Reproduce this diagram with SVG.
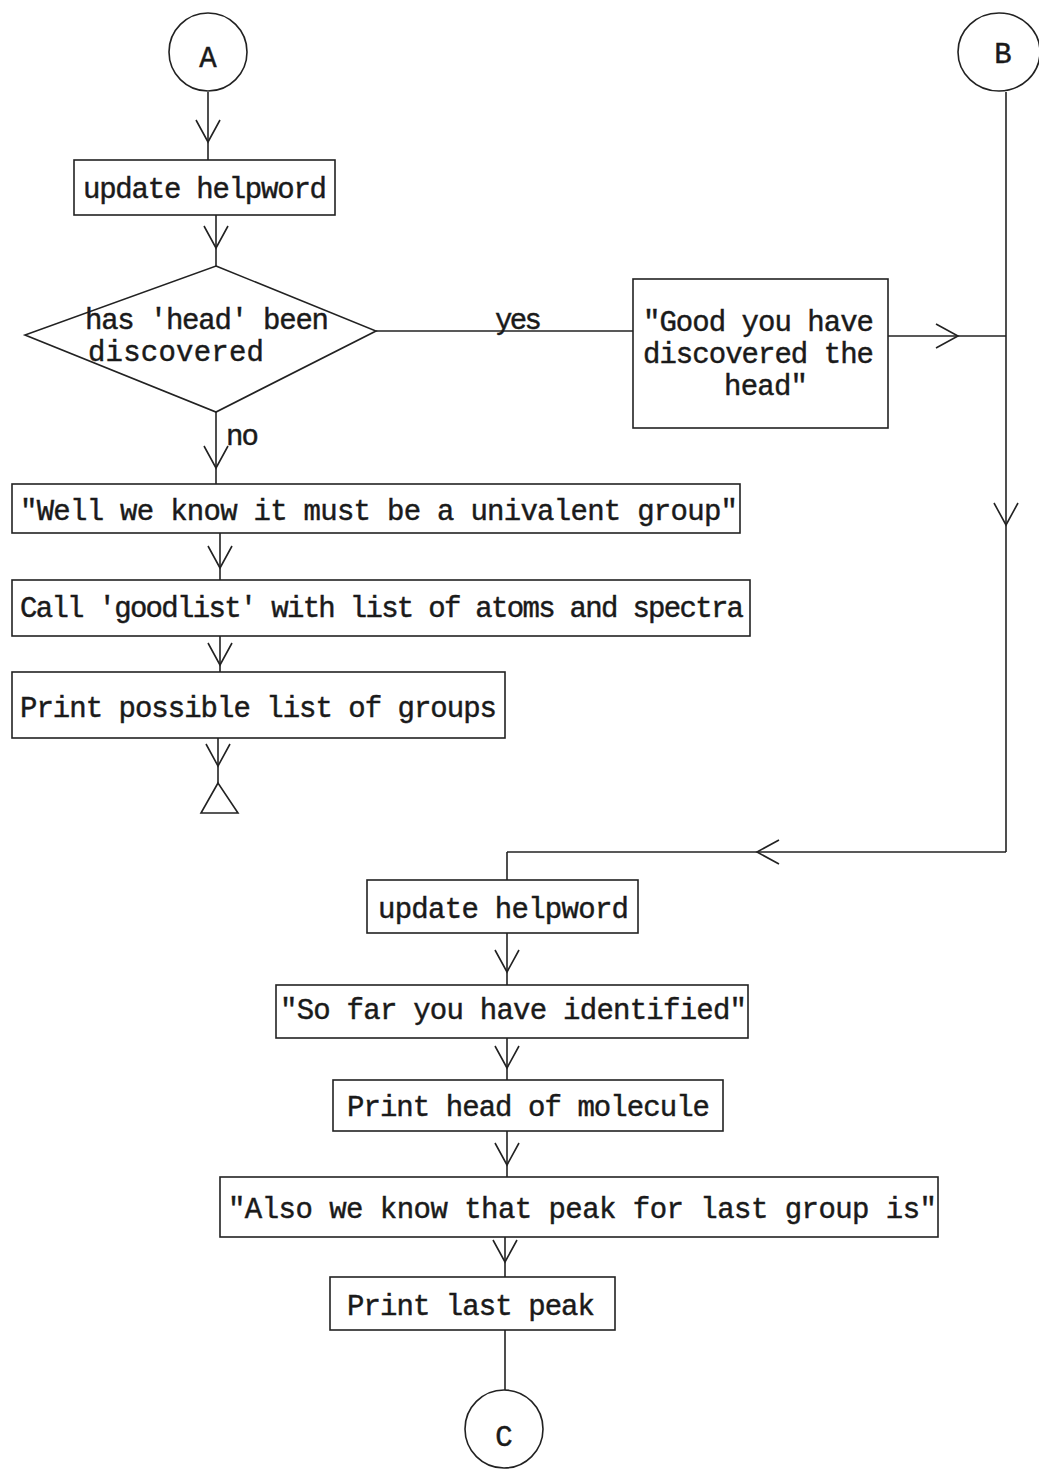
<svg xmlns="http://www.w3.org/2000/svg" width="1039" height="1470" viewBox="0 0 1039 1470">
  <style>
    .box { fill: none; stroke: #222; stroke-width: 1.6; }
    .flow { fill: none; stroke: #222; stroke-width: 1.6; }
    .arrowed { marker-mid: url(#openV); }
    .t { font-family: "Liberation Mono", "Courier New", monospace; font-size: 29px; fill: #1a1a1a; stroke: #1a1a1a; stroke-width: 0.45; }
  </style>
  <defs>
    <!-- open V arrowhead drawn at the mid vertex of a connector -->
    <marker id="openV" markerUnits="userSpaceOnUse" viewBox="-24 -14 26 28" markerWidth="26" markerHeight="28" refX="0" refY="0" orient="auto">
      <path d="M-22 -12 L0 0 L-22 12" fill="none" stroke="#222" stroke-width="1.6"/>
    </marker>
  </defs>

  <!-- connectors -->
  <g id="connectors">
    <path class="flow arrowed" d="M208 92 L208 142 L208 160"/>
    <path class="flow arrowed" d="M216 215 L216 248 L216 266"/>
    <path class="flow" d="M376 331 L633 331"/>
    <path class="flow arrowed" d="M888 336 L958 336 L1006 336"/>
    <path class="flow arrowed" d="M1006 92 L1006 525 L1006 852"/>
    <path class="flow arrowed" d="M1006 852 L757 852 L507 852"/>
    <path class="flow" d="M507 852 L507 880"/>
    <path class="flow arrowed" d="M216 412 L216 468 L216 484"/>
    <path class="flow arrowed" d="M220 533 L220 568 L220 580"/>
    <path class="flow arrowed" d="M220 636 L220 665 L220 672"/>
    <path class="flow arrowed" d="M218 738 L218 766 L218 783"/>
    <path class="flow arrowed" d="M507 933 L507 972 L507 985"/>
    <path class="flow arrowed" d="M507 1038 L507 1068 L507 1080"/>
    <path class="flow arrowed" d="M507 1131 L507 1165 L507 1177"/>
    <path class="flow arrowed" d="M505 1237 L505 1262 L505 1277"/>
    <path class="flow" d="M505 1330 L505 1390"/>
    <text class="t" x="495" y="329" textLength="47">yes</text>
    <text class="t" x="226" y="445" textLength="33">no</text>
  </g>

  <g id="start-A">
    <circle class="box" cx="208" cy="52" r="39"/>
    <text class="t" x="208" y="67" text-anchor="middle">A</text>
  </g>

  <g id="start-B">
    <ellipse class="box" cx="999" cy="52" rx="41" ry="39"/>
    <text class="t" x="1003" y="63" text-anchor="middle">B</text>
  </g>

  <g id="update-helpword-1">
    <rect class="box" x="74" y="160" width="261" height="55"/>
    <text class="t" x="83" y="198" textLength="244">update helpword</text>
  </g>

  <g id="head-discovered">
    <polygon class="box" points="216,266 376,331 216,412 25,335"/>
    <text class="t" x="85" y="329" textLength="244">has 'head' been</text>
    <text class="t" x="88" y="361" textLength="176">discovered</text>
  </g>

  <g id="good-message">
    <rect class="box" x="633" y="279" width="255" height="149"/>
    <text class="t" x="643" y="331" textLength="231">"Good you have</text>
    <text class="t" x="643" y="363" textLength="231">discovered the</text>
    <text class="t" x="724" y="395" textLength="84">head"</text>
  </g>

  <g id="univalent-message">
    <rect class="box" x="12" y="484" width="728" height="49"/>
    <text class="t" x="20" y="520" textLength="718">"Well we know it must be a univalent group"</text>
  </g>

  <g id="call-goodlist">
    <rect class="box" x="12" y="580" width="738" height="56"/>
    <text class="t" x="20" y="617" textLength="724">Call 'goodlist' with list of atoms and spectra</text>
  </g>

  <g id="print-groups">
    <rect class="box" x="12" y="672" width="493" height="66"/>
    <text class="t" x="20" y="717" textLength="477">Print possible list of groups</text>
  </g>

  <g id="stop">
    <polygon class="box" points="218,783 201,813 238,813"/>
  </g>

  <g id="update-helpword-2">
    <rect class="box" x="367" y="880" width="271" height="53"/>
    <text class="t" x="378" y="918" textLength="251">update helpword</text>
  </g>

  <g id="identified-message">
    <rect class="box" x="276" y="985" width="472" height="53"/>
    <text class="t" x="280" y="1019" textLength="467">"So far you have identified"</text>
  </g>

  <g id="print-head">
    <rect class="box" x="333" y="1080" width="390" height="51"/>
    <text class="t" x="347" y="1116" textLength="363">Print head of molecule</text>
  </g>

  <g id="peak-message">
    <rect class="box" x="220" y="1177" width="718" height="60"/>
    <text class="t" x="228" y="1218" textLength="709">"Also we know that peak for last group is"</text>
  </g>

  <g id="print-last-peak">
    <rect class="box" x="330" y="1277" width="285" height="53"/>
    <text class="t" x="347" y="1315" textLength="248">Print last peak</text>
  </g>

  <g id="end-C">
    <circle class="box" cx="504" cy="1429" r="39"/>
    <text class="t" x="504" y="1446" text-anchor="middle">C</text>
  </g>
</svg>
